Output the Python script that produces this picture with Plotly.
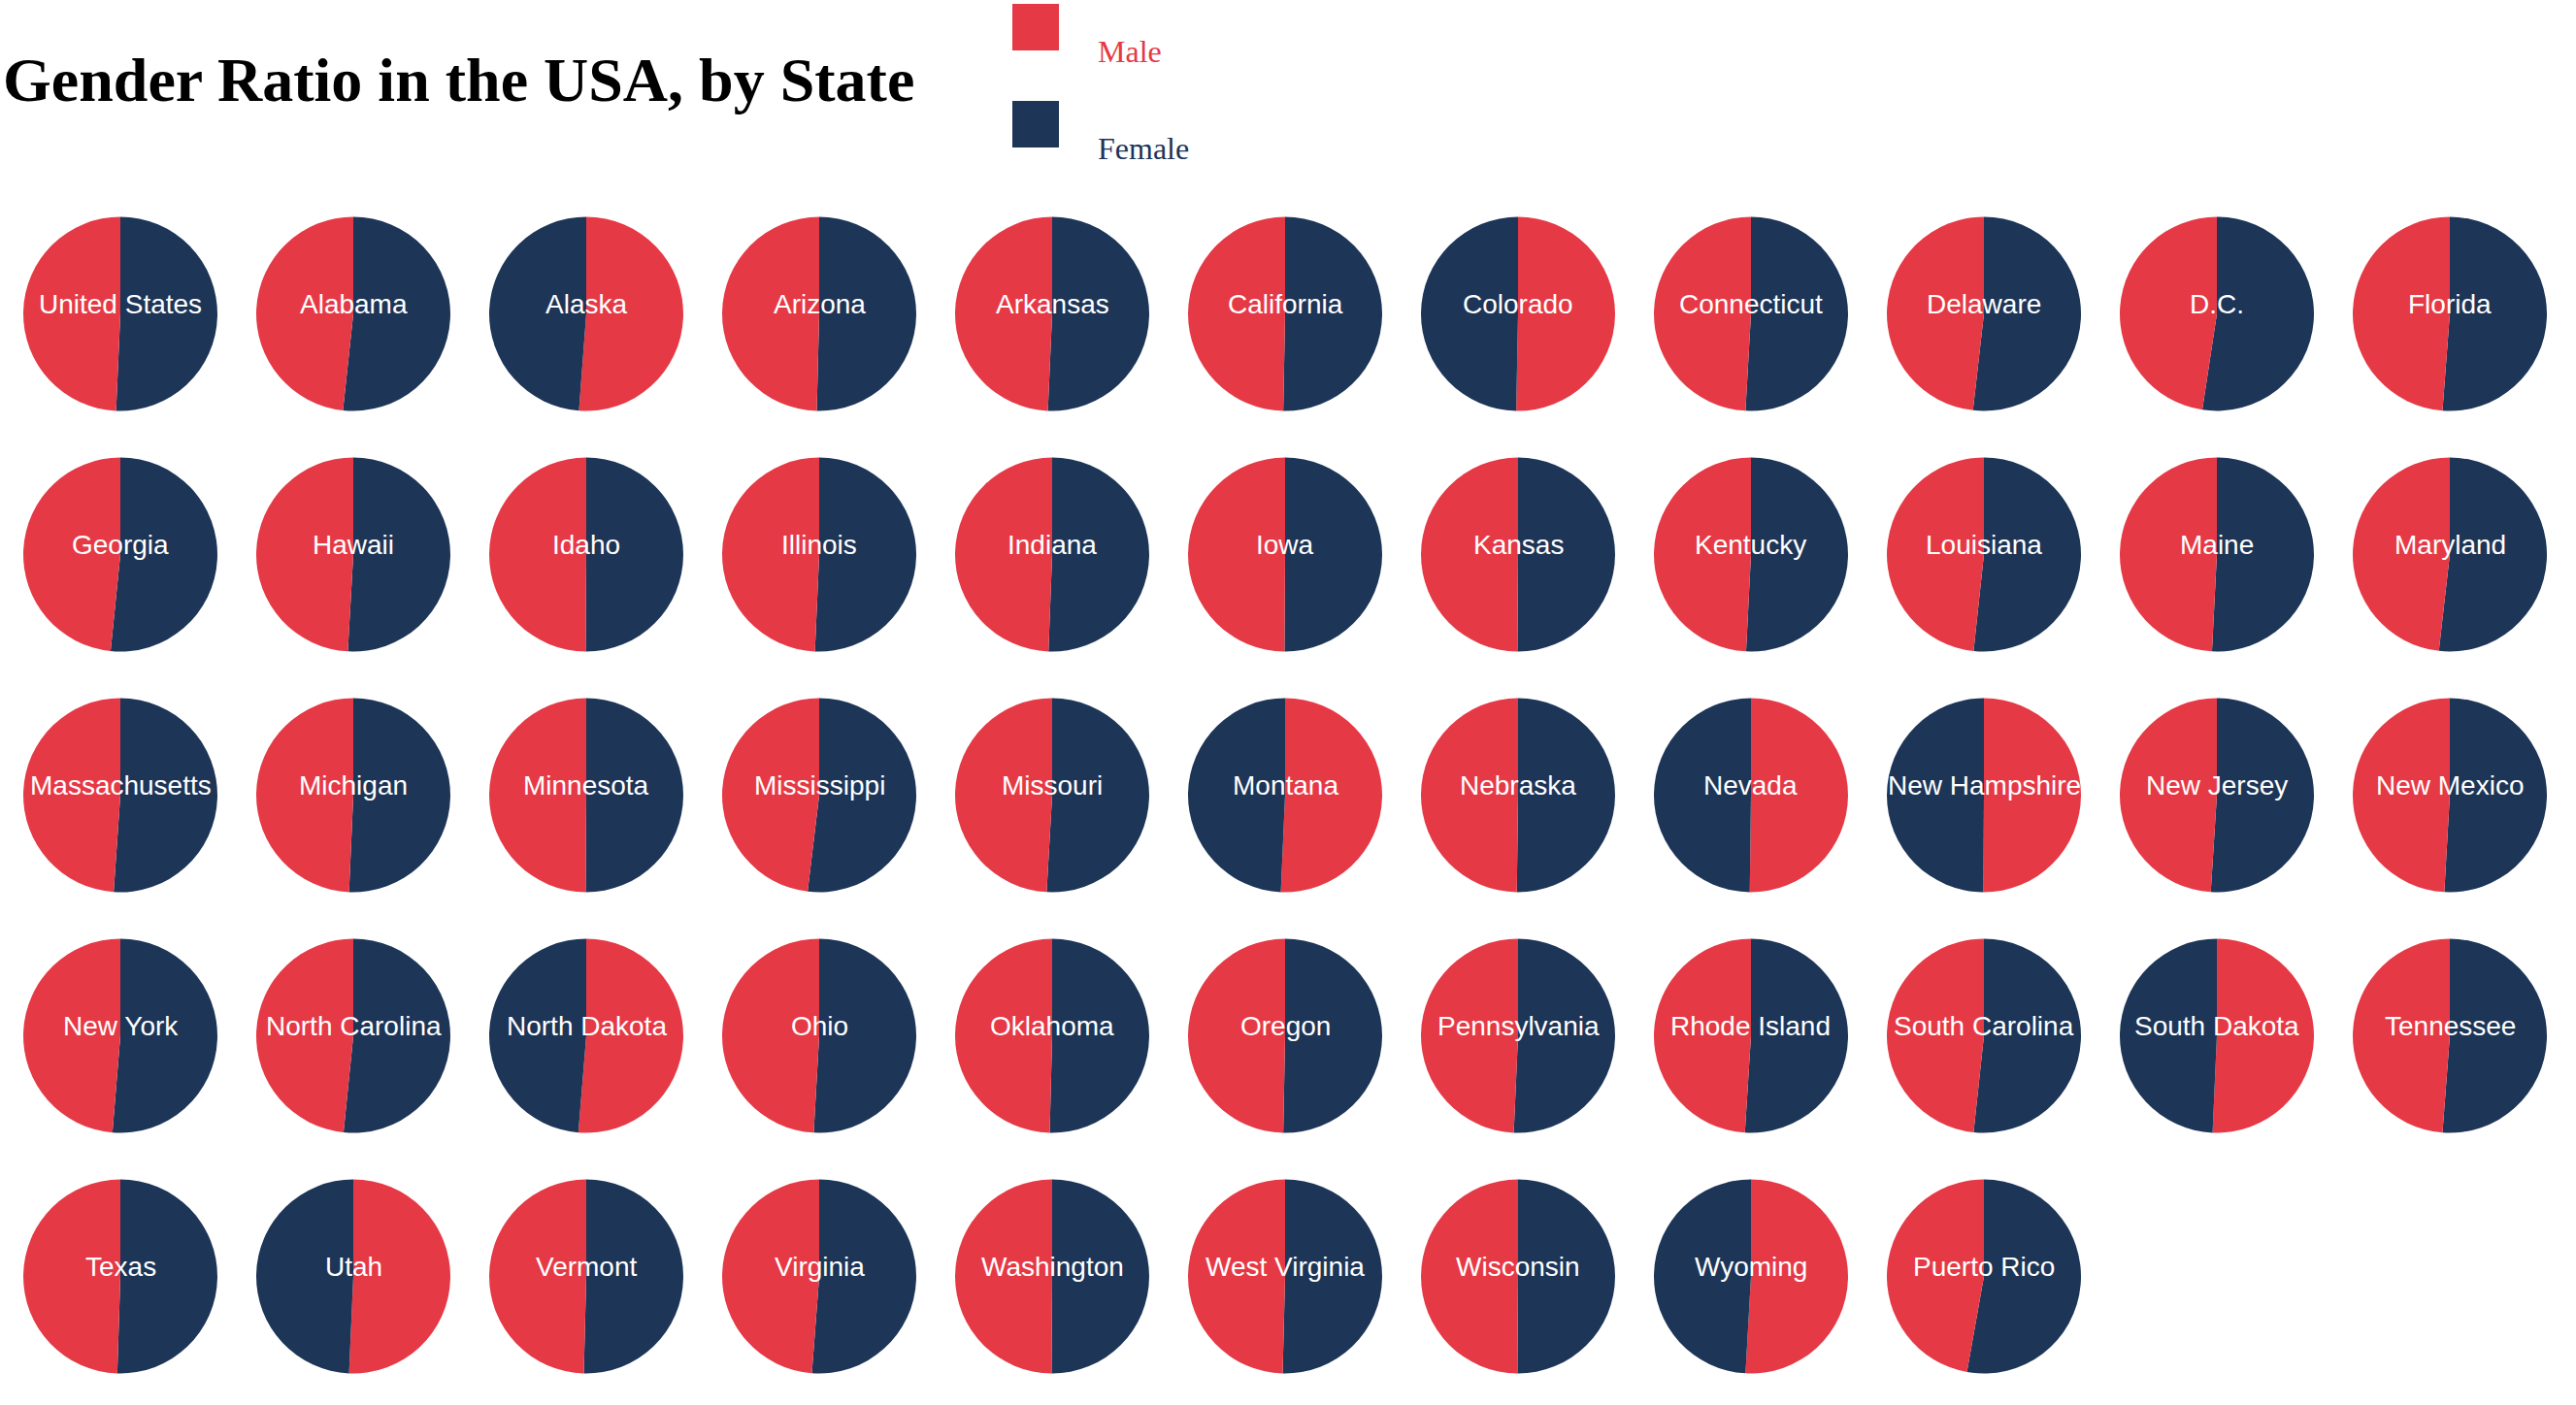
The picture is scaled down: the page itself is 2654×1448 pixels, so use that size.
import plotly.graph_objects as go

# ---------------- data ----------------
states = [
    "United States", "Alabama", "Alaska", "Arizona", "Arkansas", "California",
    "Colorado", "Connecticut", "Delaware", "D.C.", "Florida",
    "Georgia", "Hawaii", "Idaho", "Illinois", "Indiana", "Iowa",
    "Kansas", "Kentucky", "Louisiana", "Maine", "Maryland",
    "Massachusetts", "Michigan", "Minnesota", "Mississippi", "Missouri", "Montana",
    "Nebraska", "Nevada", "New Hampshire", "New Jersey", "New Mexico",
    "New York", "North Carolina", "North Dakota", "Ohio", "Oklahoma", "Oregon",
    "Pennsylvania", "Rhode Island", "South Carolina", "South Dakota", "Tennessee",
    "Texas", "Utah", "Vermont", "Virginia", "Washington", "West Virginia",
    "Wisconsin", "Wyoming", "Puerto Rico",
]

male_pct = [
    49.3, 48.3, 51.2, 49.6, 49.3, 49.7,
    50.3, 49.1, 48.2, 47.6, 48.8,
    48.4, 49.1, 49.9, 49.3, 49.4, 49.9,
    49.9, 49.2, 48.3, 49.2, 48.2,
    48.9, 49.3, 49.9, 48.1, 49.1, 50.7,
    49.8, 50.2, 50.1, 49.0, 49.1,
    48.7, 48.4, 51.3, 49.1, 49.6, 49.7,
    49.3, 49.0, 48.3, 50.7, 48.8,
    49.5, 50.7, 49.6, 48.8, 49.9, 49.6,
    49.9, 50.9, 47.2,
]

female_pct = [
    50.7, 51.7, 48.8, 50.4, 50.7, 50.3,
    49.7, 50.9, 51.8, 52.4, 51.2,
    51.6, 50.9, 50.1, 50.7, 50.6, 50.1,
    50.1, 50.8, 51.7, 50.8, 51.8,
    51.1, 50.7, 50.1, 51.9, 50.9, 49.3,
    50.2, 49.8, 49.9, 51.0, 50.9,
    51.3, 51.6, 48.7, 50.9, 50.4, 50.3,
    50.7, 51.0, 51.7, 49.3, 51.2,
    50.5, 49.3, 50.4, 51.2, 50.1, 50.4,
    50.1, 49.1, 52.8,
]

genders = ["Male", "Female"]
colors = ["#e63946", "#1d3557"]

# ---------------- layout constants ----------------
W, H = 2654, 1448
NCOLS = 11
X0, DX = 124, 240      # first pie center x, column spacing (px)
Y0, DY = 323.5, 248    # first pie center y, row spacing (px)
R = 100                # pie radius (px)

label_font = "Liberation Sans, Arial, Helvetica, sans-serif"
serif_font = "Liberation Serif, Times New Roman, Times, serif"


def px_x(x):
    return x / W


def px_y(y):
    return 1 - y / H


fig = go.Figure()
annotations = []

for i, name in enumerate(states):
    r, c = divmod(i, NCOLS)
    cx = X0 + c * DX
    cy = Y0 + r * DY
    fig.add_trace(go.Pie(
        labels=genders,
        values=[male_pct[i], female_pct[i]],
        marker=dict(colors=colors, line=dict(width=0)),
        sort=True,
        direction="clockwise",
        rotation=0,
        textinfo="none",
        hoverinfo="label+percent",
        showlegend=False,
        domain=dict(x=[px_x(cx - R), px_x(cx + R)],
                    y=[px_y(cy + R), px_y(cy - R)]),
        name=name,
    ))
    annotations.append(dict(
        text=name, x=px_x(cx), y=px_y(cy), xref="paper", yref="paper",
        xanchor="center", yanchor="middle", yshift=10, showarrow=False,
        font=dict(family=label_font, size=28, color="white"),
    ))

# title
annotations.append(dict(
    text="<b>Gender Ratio in the USA, by State</b>",
    x=px_x(1), y=px_y(120), xref="paper", yref="paper",
    xanchor="left", yanchor="bottom", showarrow=False,
    font=dict(family=serif_font, size=64, color="black"),
))

# legend (custom)
shapes = []
legend_tops = [4, 104]
for g, col, top in zip(genders, colors, legend_tops):
    shapes.append(dict(
        type="rect", xref="paper", yref="paper",
        x0=px_x(1043), x1=px_x(1091), y0=px_y(top + 48), y1=px_y(top),
        fillcolor=col, line=dict(width=0),
    ))
    annotations.append(dict(
        text=g, x=px_x(1129), y=px_y(top + 69), xref="paper", yref="paper",
        xanchor="left", yanchor="bottom", showarrow=False,
        font=dict(family=serif_font, size=32, color=col),
    ))

fig.update_layout(
    width=W, height=H,
    margin=dict(l=0, r=0, t=0, b=0),
    paper_bgcolor="white", plot_bgcolor="white",
    showlegend=False,
    annotations=annotations,
    shapes=shapes,
)

fig.write_html("out.html", config={"displayModeBar": False},
               post_script="document.body.style.margin='0px';")
